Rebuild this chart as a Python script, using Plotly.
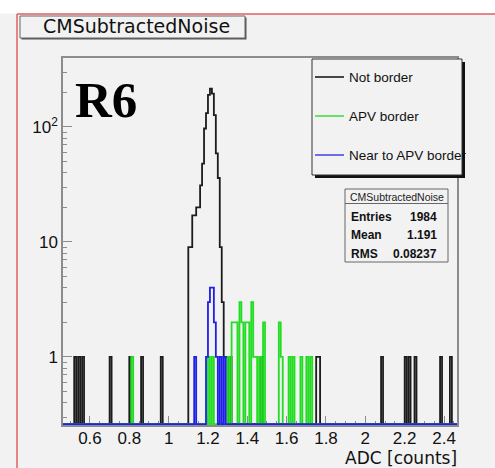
import numpy as np
import plotly.graph_objects as go

# ---------------- data ----------------
BIN_WIDTH = 0.01
HIST_START = 0.46
N_BINS = 201

series_names = ["Not border", "APV border", "Near to APV border"]

not_border_bins = [0.52, 0.54, 0.56, 0.70, 0.80, 0.86, 0.96,
                   1.10, 1.11, 1.12, 1.13, 1.14, 1.15, 1.16, 1.17, 1.18, 1.19,
                   1.20, 1.21, 1.22, 1.23, 1.24, 1.25, 1.26, 1.27, 1.28, 1.29,
                   1.31, 1.47, 1.75, 1.76, 2.08, 2.20, 2.22, 2.25, 2.38, 2.43]
not_border_counts = [1, 1, 1, 1, 1, 1, 1,
                     9, 9, 17, 17, 20, 20, 31, 48, 97, 132,
                     190, 215, 195, 127, 59, 36, 9, 3, 1, 1,
                     1, 1, 1, 1, 1, 1, 1, 1, 1, 1]

apv_border_bins = [0.81, 1.20, 1.22, 1.30, 1.32, 1.33, 1.34, 1.36, 1.37, 1.39,
                   1.40, 1.42, 1.43, 1.44, 1.46, 1.48, 1.56, 1.57, 1.61, 1.63,
                   1.67, 1.70, 1.72]
apv_border_counts = [1, 1, 1, 1, 2, 2, 2, 3, 2, 2,
                     2, 3, 1, 1, 1, 2, 2, 1, 1, 1,
                     1, 1, 1]

near_apv_bins = [1.13, 1.19, 1.20, 1.21, 1.22, 1.23, 1.24, 1.26, 1.28]
near_apv_counts = [1, 1, 3, 4, 4, 2, 1, 1, 1]

x_tick_vals = [0.6, 0.8, 1.0, 1.2, 1.4, 1.6, 1.8, 2.0, 2.2, 2.4]
x_tick_text = ["0.6", "0.8", "1", "1.2", "1.4", "1.6", "1.8", "2", "2.2", "2.4"]
y_tick_vals = [1, 10, 100]
y_tick_text = ["1", "10", "10<sup>2</sup>"]
y_minor_vals = [0.3, 0.4, 0.5, 0.6, 0.7, 0.8, 0.9, 2, 3, 4, 5, 6, 7, 8, 9,
                20, 30, 40, 50, 60, 70, 80, 90, 200, 300]

stats_title = "CMSubtractedNoise"
stats_rows = [("Entries", "1984"), ("Mean", "1.191"), ("RMS", "0.08237")]
hist_title = "CMSubtractedNoise"
x_title = "ADC [counts]"
label_text = "R6"

# ---------------- layout constants ----------------
W, H = 495, 468
ML, MR, MT, MB = 63, 38, 58, 43
X_RANGE = [0.463, 2.466]
Y_LOG_RANGE = [-0.592, 2.60]
Y_FLOOR = 10 ** (Y_LOG_RANGE[0] + 0.007)

BG = "#f2f2f2"
colors = ["#1c1c1c", "#22dd22", "#1f1fe6"]
legend_colors = ["#1c1c1c", "#44dd44", "#4a4ae0"]
SANS = "Liberation Sans, Arial, sans-serif"
DEJAVU = "DejaVu Sans, sans-serif"

PW = W - ML - MR
PH = H - MT - MB


def px_x(px):
    return (px - ML) / PW


def px_y(py):
    return (H - MB - py) / PH


def step_xy(bins, counts):
    full = np.zeros(N_BINS)
    for b, c in zip(bins, counts):
        full[int(round((b - HIST_START) / BIN_WIDTH))] = c
    edges = HIST_START + BIN_WIDTH * np.arange(N_BINS + 1)
    y = np.where(full > 0, full, Y_FLOOR)
    y = np.append(y, Y_FLOOR)
    return edges, y


fig = go.Figure()
for name, bins, counts, col in zip(series_names,
                                   [not_border_bins, apv_border_bins, near_apv_bins],
                                   [not_border_counts, apv_border_counts, near_apv_counts],
                                   colors):
    xs, ys = step_xy(bins, counts)
    fig.add_trace(go.Scatter(x=xs, y=ys, mode="lines", name=name,
                             line=dict(color=col, width=1.8, shape="hv"),
                             hoverinfo="skip", showlegend=False))

shapes = []
annotations = []

# white strip at top and red frame lines
shapes.append(dict(type="rect", xref="paper", yref="paper",
                   x0=px_x(0), x1=px_x(W), y0=px_y(0), y1=px_y(13.5),
                   fillcolor="white", line=dict(width=0), layer="below"))
shapes.append(dict(type="line", xref="paper", yref="paper",
                   x0=px_x(17), x1=px_x(W), y0=px_y(14), y1=px_y(14),
                   line=dict(color="#e06060", width=1.5), layer="above"))
shapes.append(dict(type="line", xref="paper", yref="paper",
                   x0=px_x(17), x1=px_x(17), y0=px_y(14), y1=px_y(H),
                   line=dict(color="#e06060", width=1.5), layer="above"))

# histogram title box
shapes.append(dict(type="rect", xref="paper", yref="paper",
                   x0=px_x(21.5), x1=px_x(246.5), y0=px_y(17.5), y1=px_y(39.5),
                   fillcolor="#555555", line=dict(width=0), layer="above"))
shapes.append(dict(type="rect", xref="paper", yref="paper",
                   x0=px_x(20), x1=px_x(245), y0=px_y(16), y1=px_y(38),
                   fillcolor=BG, line=dict(color="#666666", width=1), layer="above"))
annotations.append(dict(text=hist_title, xref="paper", yref="paper",
                        x=px_x(136), y=px_y(26.5), xanchor="center", yanchor="middle",
                        showarrow=False, font=dict(family=DEJAVU, size=19, color="#111111")))

# legend box
LX0, LX1, LY0, LY1 = 312, 462, 59, 175
shapes.append(dict(type="rect", xref="paper", yref="paper",
                   x0=px_x(LX0 + 3), x1=px_x(LX1 + 3), y0=px_y(LY0 + 3), y1=px_y(LY1 + 3),
                   fillcolor="#111111", line=dict(width=0), layer="above"))
shapes.append(dict(type="rect", xref="paper", yref="paper",
                   x0=px_x(LX0), x1=px_x(LX1), y0=px_y(LY0), y1=px_y(LY1),
                   fillcolor=BG, line=dict(color="#333333", width=1), layer="above"))
for i, (name, col) in enumerate(zip(series_names, legend_colors)):
    yy = 77 + i * 39
    shapes.append(dict(type="line", xref="paper", yref="paper",
                       x0=px_x(315), x1=px_x(344), y0=px_y(yy), y1=px_y(yy),
                       line=dict(color=col, width=1.6), layer="above"))
    annotations.append(dict(text=name, xref="paper", yref="paper",
                            x=px_x(347), y=px_y(yy), xanchor="left", yanchor="middle",
                            showarrow=False, font=dict(family=SANS, size=13.5, color="#111111")))

# stats box
SX0, SX1, SY0, SY1 = 345, 448, 189, 262
shapes.append(dict(type="rect", xref="paper", yref="paper",
                   x0=px_x(SX0), x1=px_x(SX1), y0=px_y(SY0), y1=px_y(SY1),
                   fillcolor=BG, line=dict(color="#666666", width=1), layer="above"))
shapes.append(dict(type="line", xref="paper", yref="paper",
                   x0=px_x(SX0), x1=px_x(SX1), y0=px_y(203.5), y1=px_y(203.5),
                   line=dict(color="#666666", width=1), layer="above"))
annotations.append(dict(text=stats_title, xref="paper", yref="paper",
                        x=px_x(396.5), y=px_y(197), xanchor="center", yanchor="middle",
                        showarrow=False, font=dict(family=SANS, size=10.5, color="#222222")))
for i, (lab, val) in enumerate(stats_rows):
    yy = 217 + i * 18.3
    annotations.append(dict(text="<b>%s</b>" % lab, xref="paper", yref="paper",
                            x=px_x(349), y=px_y(yy), xanchor="left", yanchor="middle",
                            showarrow=False, font=dict(family=SANS, size=12, color="#111111")))
    annotations.append(dict(text="<b>%s</b>" % val, xref="paper", yref="paper",
                            x=px_x(439), y=px_y(yy), xanchor="right", yanchor="middle",
                            showarrow=False, font=dict(family=SANS, size=12, color="#111111")))

# R6 label
annotations.append(dict(text="<b>%s</b>" % label_text, xref="paper", yref="paper",
                        x=px_x(106), y=px_y(100), xanchor="center", yanchor="middle",
                        showarrow=False,
                        font=dict(family="Liberation Serif, Times New Roman, serif", size=51,
                                  color="#000000")))

# x axis title
annotations.append(dict(text=x_title, xref="paper", yref="paper",
                        x=px_x(459), y=px_y(457.5), xanchor="right", yanchor="middle",
                        showarrow=False, font=dict(family=DEJAVU, size=17, color="#111111")))

AXIS_COL = "#8c8c8c"
fig.update_layout(
    width=W, height=H, autosize=False,
    margin=dict(l=ML, r=MR, t=MT, b=MB, pad=0),
    paper_bgcolor=BG, plot_bgcolor=BG,
    showlegend=False,
    shapes=shapes, annotations=annotations,
    xaxis=dict(range=X_RANGE, showgrid=False, zeroline=False,
               showline=True, mirror=True, linecolor=AXIS_COL, linewidth=1.5,
               ticks="inside", ticklen=9, tickwidth=1, tickcolor=AXIS_COL,
               tickvals=x_tick_vals, ticktext=x_tick_text,
               tickfont=dict(family=SANS, size=17, color="#111111"),
               ticklabelstandoff=-3,
               minor=dict(dtick=0.05, tick0=0, ticks="inside", ticklen=4,
                          tickcolor=AXIS_COL, tickwidth=1, showgrid=False),
               layer="below traces"),
    yaxis=dict(type="log", range=Y_LOG_RANGE, showgrid=False, zeroline=False,
               showline=True, mirror=True, linecolor=AXIS_COL, linewidth=1.5,
               ticks="inside", ticklen=9, tickwidth=1, tickcolor=AXIS_COL,
               tickvals=y_tick_vals, ticktext=y_tick_text,
               tickfont=dict(family=SANS, size=17, color="#111111"),
               minor=dict(tickvals=y_minor_vals, ticks="inside", ticklen=4,
                          tickcolor=AXIS_COL, tickwidth=1, showgrid=False),
               layer="below traces"),
)

fig.write_html("out.html", config={"displayModeBar": False})
